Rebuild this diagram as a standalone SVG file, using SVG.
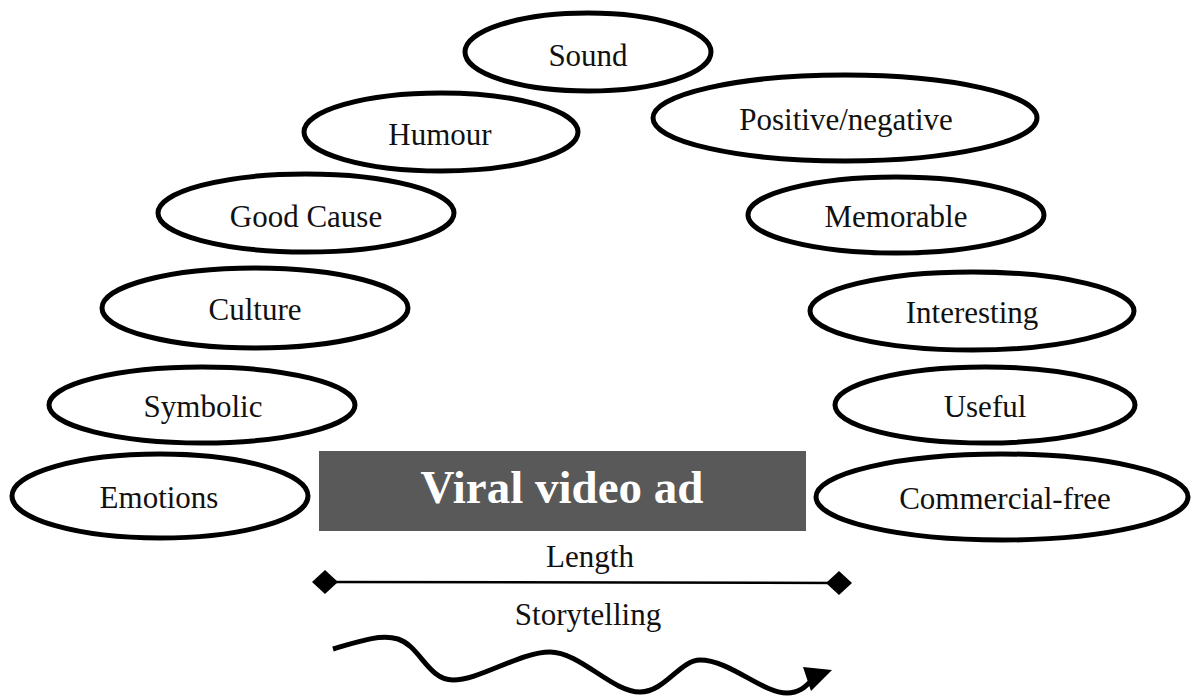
<svg xmlns="http://www.w3.org/2000/svg" width="1192" height="697" viewBox="0 0 1192 697">
  <style>
    .oval { fill: #ffffff; stroke: #000000; stroke-width: 5; }
    .label { font-family: "Liberation Serif", "Times New Roman", serif; font-size: 31px; fill: #111111; text-anchor: middle; }
    .title { font-family: "Liberation Serif", "Times New Roman", serif; font-size: 47px; font-weight: bold; fill: #ffffff; text-anchor: middle; }
    .wire { fill: none; stroke: #000000; }
  </style>
  <defs>
    <marker id="diamond" viewBox="-13 -13 26 26" markerWidth="26" markerHeight="26" markerUnits="userSpaceOnUse" orient="auto">
      <polygon points="-13,0 0,-12 13,0 0,12" fill="#000000"/>
    </marker>
  </defs>
  <rect width="1192" height="697" fill="#ffffff"/>

  <!-- left column of factors -->
  <g id="node-sound">
    <ellipse class="oval" cx="588" cy="52" rx="123" ry="39"/>
    <text class="label" x="588" y="66">Sound</text>
  </g>
  <g id="node-humour">
    <ellipse class="oval" cx="441" cy="132" rx="137" ry="39"/>
    <text class="label" x="440" y="145">Humour</text>
  </g>
  <g id="node-good-cause">
    <ellipse class="oval" cx="306" cy="213" rx="148" ry="39"/>
    <text class="label" x="306" y="227">Good Cause</text>
  </g>
  <g id="node-culture">
    <ellipse class="oval" cx="255" cy="308" rx="153" ry="40"/>
    <text class="label" x="255" y="320">Culture</text>
  </g>
  <g id="node-symbolic">
    <ellipse class="oval" cx="202" cy="405" rx="153" ry="38"/>
    <text class="label" x="203" y="417">Symbolic</text>
  </g>
  <g id="node-emotions">
    <ellipse class="oval" cx="160" cy="496" rx="148" ry="42"/>
    <text class="label" x="159" y="508">Emotions</text>
  </g>

  <!-- right column of factors -->
  <g id="node-positive-negative">
    <ellipse class="oval" cx="845" cy="118" rx="192" ry="43"/>
    <text class="label" x="846" y="130">Positive/negative</text>
  </g>
  <g id="node-memorable">
    <ellipse class="oval" cx="896" cy="215" rx="148" ry="38"/>
    <text class="label" x="896" y="227">Memorable</text>
  </g>
  <g id="node-interesting">
    <ellipse class="oval" cx="972" cy="311" rx="162" ry="39"/>
    <text class="label" x="972" y="323">Interesting</text>
  </g>
  <g id="node-useful">
    <ellipse class="oval" cx="985" cy="405" rx="150" ry="38"/>
    <text class="label" x="985" y="417">Useful</text>
  </g>
  <g id="node-commercial-free">
    <ellipse class="oval" cx="1002" cy="497" rx="186" ry="43"/>
    <text class="label" x="1005" y="509">Commercial-free</text>
  </g>

  <!-- central block -->
  <g id="node-viral-video-ad">
    <rect x="319" y="451" width="487" height="80" fill="#595959"/>
    <text class="title" x="562" y="503">Viral video ad</text>
  </g>

  <g id="node-length">
    <text class="label" x="590" y="567">Length</text>
  </g>
  <g id="node-storytelling">
    <text class="label" x="588" y="625">Storytelling</text>
  </g>

  <!-- connectors -->
  <g id="connectors">
    <line class="wire" x1="325" y1="582" x2="839" y2="583" stroke-width="2.5" marker-start="url(#diamond)" marker-end="url(#diamond)"/>
    <path class="wire" stroke-width="5" d="M333,649 C360,641 380,634 398,639 C420,646 428,680 453,680 C480,680 520,652 550,652 C580,652 612,692 640,692 C665,692 680,660 700,660 C730,660 762,693 787,693 C800,693 806,686 813,679"/>
    <polygon points="803,667 832,670 811,691" fill="#000000"/>
  </g>
</svg>
